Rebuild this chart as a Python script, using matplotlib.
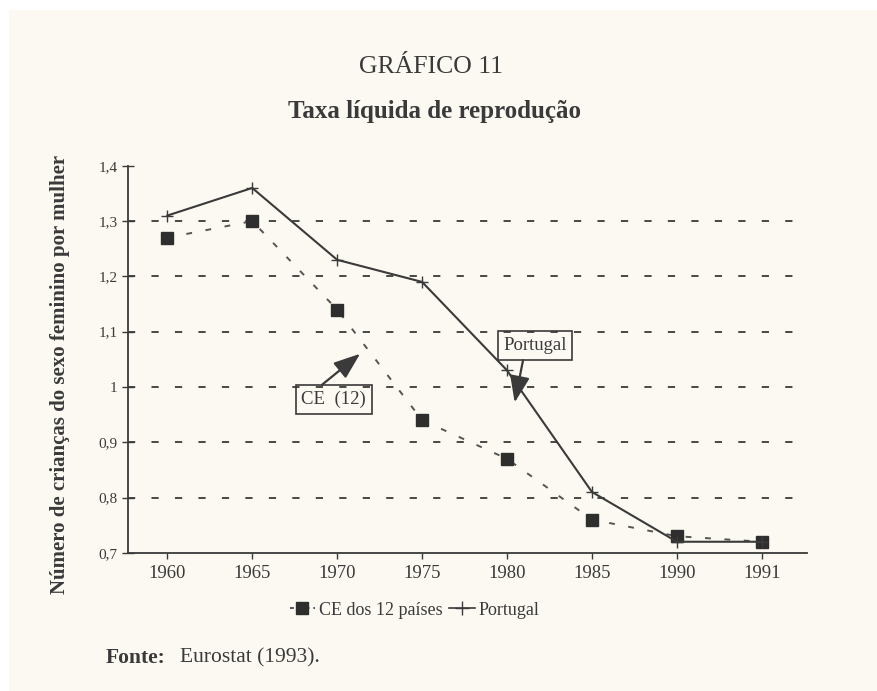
import numpy as np
import matplotlib.pyplot as plt
from matplotlib.lines import Line2D

# dados
anos = ['1960', '1965', '1970', '1975', '1980', '1985', '1990', '1991']
ce12 = [1.27, 1.30, 1.14, 0.94, 0.87, 0.76, 0.73, 0.72]
portugal = [1.31, 1.36, 1.23, 1.19, 1.03, 0.81, 0.72, 0.72]
yticks = [0.7, 0.8, 0.9, 1.0, 1.1, 1.2, 1.3, 1.4]
ytick_labels = ['0,7', '0,8', '0,9', '1', '1,1', '1,2', '1,3', '1,4']

tinta = '#3a3a3a'
papel = '#fbf9f1'
plt.rcParams['font.family'] = ['Liberation Serif', 'DejaVu Serif']

fig = plt.figure(figsize=(8.78, 6.91), dpi=100, facecolor='white')
# folha digitalizada
fig.patches.append(plt.Rectangle((0.01, 0.0), 0.99, 0.985, transform=fig.transFigure,
                                 facecolor=papel, edgecolor='none', zorder=-10))

ax = fig.add_axes([0.146, 0.2, 0.773, 0.56])
ax.set_facecolor('none')
x = np.arange(len(anos))

# linhas de grelha tracejadas
for v in yticks[1:-1]:
    ax.axhline(v, color=tinta, lw=1.3, dashes=(4, 9), zorder=1)

ax.plot(x, ce12, color='#555555', lw=1.4, dashes=(3, 7),
        marker='s', markersize=8, markerfacecolor='#2e2e2e', markeredgecolor='#2e2e2e',
        zorder=3)
ax.plot(x, portugal, color=tinta, lw=1.5, marker='+', markersize=8,
        markeredgewidth=1.0, zorder=3)

ax.set_xlim(-0.46, 7.53)
ax.set_ylim(0.7, 1.4)
ax.set_xticks(x)
ax.set_xticklabels(anos, fontsize=13.5, color=tinta)
ax.set_yticks(yticks)
ax.set_yticklabels(ytick_labels, fontsize=11, color=tinta)
ax.tick_params(axis='y', direction='inout', length=9, width=1, color=tinta, pad=3)
ax.tick_params(axis='x', direction='out', length=4, width=1, color=tinta, pad=5)
for s in ['top', 'right']:
    ax.spines[s].set_visible(False)
for s in ['left', 'bottom']:
    ax.spines[s].set_color(tinta)
    ax.spines[s].set_linewidth(1.3)

ax.set_ylabel('Número de crianças do sexo feminino por mulher', fontsize=15,
              fontweight='bold', color=tinta)
ax.yaxis.set_label_coords(-0.085, 0.46)

# anotacoes
caixa = dict(boxstyle='square,pad=0.3', facecolor='none', edgecolor=tinta, lw=1.2)
seta = dict(arrowstyle='-|>,head_length=1.2,head_width=0.45', color=tinta, lw=1.6,
            shrinkA=0, shrinkB=0)
ax.annotate('CE  (12)', xy=(2.27, 1.06), xytext=(1.96, 0.977), fontsize=13.5,
            color=tinta, ha='center', va='center', bbox=caixa,
            arrowprops=dict(seta, relpos=(0.2, 1.0)))
ax.annotate('Portugal', xy=(4.09, 0.972), xytext=(4.33, 1.075), fontsize=13.5,
            color=tinta, ha='center', va='center', bbox=caixa,
            arrowprops=dict(seta, relpos=(0.33, 0.0)))

# titulos
fig.text(0.491, 0.903, 'GRÁFICO 11', fontsize=18.5, color=tinta, ha='center', va='center')
fig.text(0.495, 0.838, 'Taxa líquida de reprodução', fontsize=18, fontweight='bold',
         color=tinta, ha='center', va='center')

# legenda
handles = [Line2D([], [], color='#555555', lw=1.4, dashes=(2, 2), marker='s',
                  markersize=8, markerfacecolor='#2e2e2e', markeredgecolor='#2e2e2e'),
           Line2D([], [], color=tinta, lw=1.2, marker='+', markersize=10)]
fig.legend(handles, ['CE dos 12 países', 'Portugal'], loc='center',
           bbox_to_anchor=(0.472, 0.117), ncol=2, frameon=False, fontsize=13,
           handlelength=1.4, handletextpad=0.2, columnspacing=0.4, labelcolor=tinta)

fig.text(0.12, 0.048, 'Fonte:', fontsize=15.5, fontweight='bold', color=tinta,
         ha='left', va='center')
fig.text(0.205, 0.048, 'Eurostat (1993).', fontsize=15.5, color=tinta,
         ha='left', va='center')

plt.savefig('out.png', dpi=100, facecolor=fig.get_facecolor())
